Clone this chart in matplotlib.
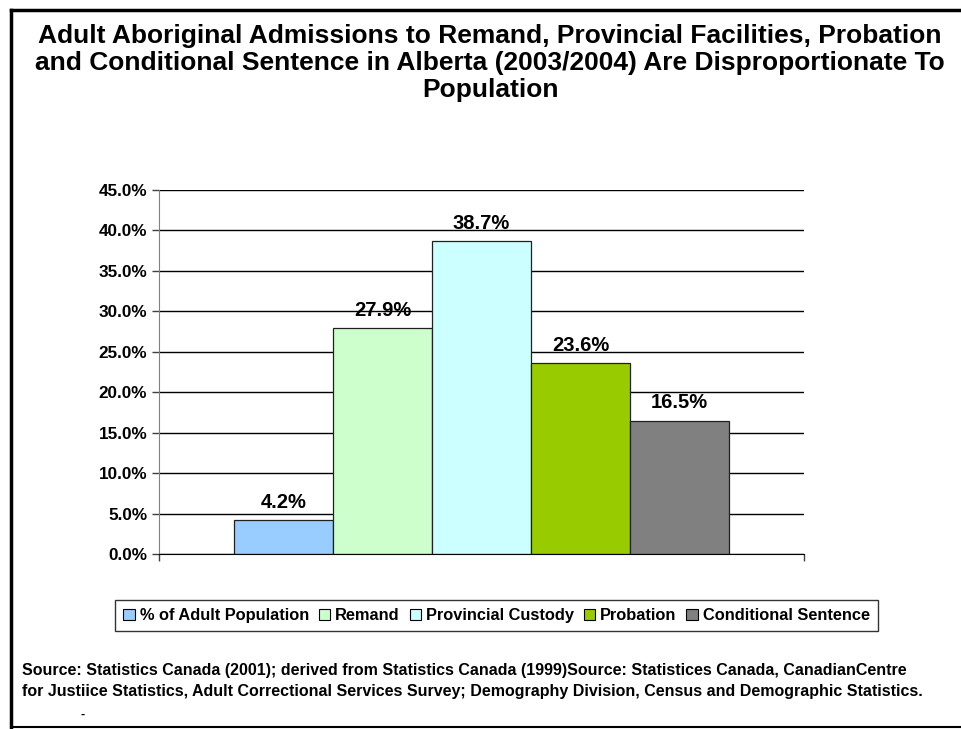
import matplotlib.pyplot as plt
from matplotlib.patches import Patch
from matplotlib.lines import Line2D

plt.rcParams['font.family'] = ['Liberation Sans', 'DejaVu Sans']
plt.rcParams['font.weight'] = 'bold'

# Alberta 2003/2004 shares of Aboriginal adults
series = ['% of Adult Population', 'Remand', 'Provincial Custody',
          'Probation', 'Conditional Sentence']
values = [4.2, 27.9, 38.7, 23.6, 16.5]
colors = ['#99CCFF', '#CCFFCC', '#CCFFFF', '#99CC00', '#808080']
yticks = [0, 5, 10, 15, 20, 25, 30, 35, 40, 45]

fig = plt.figure(figsize=(9.61, 7.29), dpi=100)
ax = fig.add_axes([0.1655, 0.2401, 0.671, 0.4993])

xpos = [i - 2 for i in range(len(values))]
bars = ax.bar(xpos, values, width=1.0, color=colors, edgecolor='#202020',
              linewidth=0.9, zorder=3)
for b, v in zip(bars, values):
    ax.annotate(f'{v:.1f}%', (b.get_x() + b.get_width() / 2, v),
                xytext=(0, 6), textcoords='offset points',
                ha='center', va='bottom', fontsize=14.5, fontweight='bold',
                zorder=5)

ax.set_xlim(-3.258, 3.258)
ax.set_ylim(0, 45)
ax.set_yticks(yticks)
ax.set_yticklabels([f'{t:.1f}%' for t in yticks], fontsize=12.3, fontweight='bold')
ax.set_xticks([-3.258, 3.258])
ax.set_xticklabels([])
ax.tick_params(axis='both', length=5, width=1, color='#404040')
ax.grid(axis='y', color='black', linewidth=1, zorder=0)
for s in ['top', 'right']:
    ax.spines[s].set_visible(False)
ax.spines['left'].set_color('#808080')
ax.spines['bottom'].set_color('black')
ax.spines['bottom'].set_zorder(4)

fig.text(0.51, 1 - 24 / 729,
         'Adult Aboriginal Admissions to Remand, Provincial Facilities, Probation\n'
         'and Conditional Sentence in Alberta (2003/2004) Are Disproportionate To\n'
         'Population',
         ha='center', va='top', fontsize=19, fontweight='bold', linespacing=1.15)

handles = [Patch(facecolor=c, edgecolor='black', linewidth=0.8) for c in colors]
leg = fig.legend(handles, series, loc='center', bbox_to_anchor=(0.5166, 1 - 615.5 / 729),
                 ncol=5, frameon=True, fancybox=False,
                 edgecolor='black', handlelength=0.7, handleheight=0.7,
                 handletextpad=0.3, columnspacing=0.6, borderpad=0.5,
                 prop={'weight': 'bold', 'size': 11.8})
leg.get_frame().set_linewidth(1)

fig.text(22 / 961, 1 - 681 / 729,
         'Source: Statistics Canada (2001); derived from Statistics Canada (1999)Source: Statistices Canada, CanadianCentre\n'
         'for Justiice Statistics, Adult Correctional Services Survey; Demography Division, Census and Demographic Statistics.',
         ha='left', va='center', fontsize=11.5, fontweight='bold', linespacing=1.5)
fig.text(83 / 961, 1 - 715 / 729, '-', ha='center', va='center', fontsize=9, fontweight='bold')

# slide frame
fig.add_artist(Line2D([11 / 961, 1], [1 - 10 / 729, 1 - 10 / 729], color='black', linewidth=2.5))
fig.add_artist(Line2D([11 / 961, 11 / 961], [1 - 10 / 729, 0], color='black', linewidth=2.5))
fig.add_artist(Line2D([11 / 961, 1], [1 - 727 / 729, 1 - 727 / 729], color='black', linewidth=1.5))

fig.savefig('out.png', dpi=100)
